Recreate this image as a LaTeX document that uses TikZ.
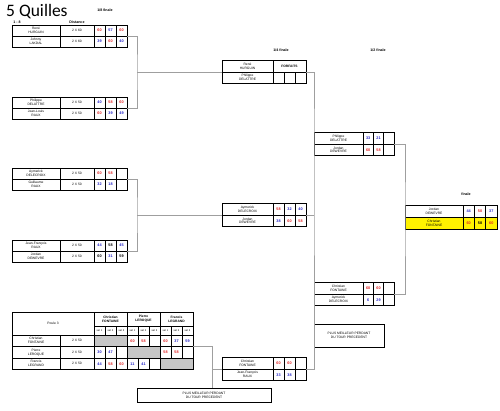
\documentclass[tikz,border=0pt]{standalone}
\usepackage{fontspec}
\setmainfont{Liberation Sans}
\newfontfamily\titre{Carlito}
\usetikzlibrary{positioning}
\definecolor{ptrouge}{RGB}{225,35,35}
\definecolor{ptbleu}{RGB}{35,35,200}
\newcommand{\petit}{\fontsize{3.3}{3.9}\selectfont}
\newcommand{\chiffre}{\fontsize{3.8}{4}\selectfont\bfseries}

\begin{document}
\begin{tikzpicture}[x=1pt, y=-1pt,
    cell/.style = {draw, line width=0.6pt, inner sep=0pt, outer sep=0pt},
    nom/.style = {cell, anchor=north west, minimum width=48pt, minimum height=11pt, align=center, font=\petit},
    dist/.style = {cell, minimum width=34pt, minimum height=11pt, font=\petit},
    score/.style = {cell, minimum width=11pt, minimum height=11pt, font=\chiffre},
    nomq/.style = {nom, minimum width=51pt, minimum height=11.5pt},
    ptq/.style = {score, minimum height=11.5pt},
    noms/.style = {nom, minimum width=49pt, minimum height=11.5pt},
    pts/.style = {score, minimum width=10.33pt, minimum height=11.5pt},
    nomf/.style = {nom, minimum width=58pt, minimum height=12pt},
    ptf/.style = {score, minimum width=11.33pt, minimum height=12pt},
    nomp/.style = {nom, minimum height=11.5pt},
    distp/.style = {dist, minimum height=11.5pt},
    ptp/.style = {score, minimum height=11.5pt},
    setc/.style = {cell, anchor=north west, minimum width=11pt, minimum height=9pt, font=\fontsize{2.6}{3}\selectfont},
    rg/.style = {text=ptrouge},
    bl/.style = {text=ptbleu},
    gris/.style = {fill=gray!45},
    lbl/.style = {inner sep=0pt, font=\fontsize{3.6}{4}\selectfont\bfseries},
    lien/.style = {draw=gray!75, line width=0.8pt}]

\useasboundingbox (0,0) rectangle (500,410);

\node[anchor=base west, inner sep=0pt, font=\titre\fontsize{17.5}{17.5}\selectfont] (titre) at (6,16.5) {5 Quilles};
\node[lbl] (huit) at (105,10) {1/8 finale};
\node[lbl] (num) at (17,22) {1 - 8};
\node[lbl] (distance) at (77,22) {Distance};
\node[lbl] (quart) at (281,50) {1/4 finale};
\node[lbl] (demi) at (378,50) {1/2 finale};
\node[lbl] (fin) at (466,194) {finale};

% 1/8 finale
\node[nom] (t1a) at (12,25) {René\\HURGUIN};
\node[dist] (t1ad) [right=0pt of t1a] {2 X 60};
\node[score,rg] (t1a1) [right=0pt of t1ad] {60};
\node[score,bl] (t1a2) [right=0pt of t1a1] {57};
\node[score,rg] (t1a3) [right=0pt of t1a2] {60};
\node[nom] (t1b) [below=0pt of t1a] {Johnny\\LAKDAL};
\node[dist] (t1bd) [right=0pt of t1b] {2 X 60};
\node[score,bl] (t1b1) [right=0pt of t1bd] {39};
\node[score,rg] (t1b2) [right=0pt of t1b1] {60};
\node[score,bl] (t1b3) [right=0pt of t1b2] {40};

\node[nom] (t2a) at (12,97) {Philippe\\DELATTRE};
\node[dist] (t2ad) [right=0pt of t2a] {2 X 50};
\node[score,bl] (t2a1) [right=0pt of t2ad] {40};
\node[score,rg] (t2a2) [right=0pt of t2a1] {58};
\node[score,rg] (t2a3) [right=0pt of t2a2] {60};
\node[nom] (t2b) [below=0pt of t2a] {Jean-Louis\\RAUX};
\node[dist] (t2bd) [right=0pt of t2b] {2 X 50};
\node[score,rg] (t2b1) [right=0pt of t2bd] {60};
\node[score,bl] (t2b2) [right=0pt of t2b1] {39};
\node[score,bl] (t2b3) [right=0pt of t2b2] {49};

\node[nom] (t3a) at (12,168) {Aymerick\\DELECROIX};
\node[dist] (t3ad) [right=0pt of t3a] {2 X 50};
\node[score,rg] (t3a1) [right=0pt of t3ad] {60};
\node[score,rg] (t3a2) [right=0pt of t3a1] {58};
\node[score] (t3a3) [right=0pt of t3a2] {};
\node[nom] (t3b) [below=0pt of t3a] {Guillaume\\RAUX};
\node[dist] (t3bd) [right=0pt of t3b] {2 X 50};
\node[score,bl] (t3b1) [right=0pt of t3bd] {32};
\node[score,bl] (t3b2) [right=0pt of t3b1] {18};
\node[score] (t3b3) [right=0pt of t3b2] {};

\node[nom] (t4a) at (12,240) {Jean-François\\RAUX};
\node[dist] (t4ad) [right=0pt of t4a] {2 X 50};
\node[score,bl] (t4a1) [right=0pt of t4ad] {44};
\node[score] (t4a2) [right=0pt of t4a1] {58};
\node[score,bl] (t4a3) [right=0pt of t4a2] {45};
\node[nom] (t4b) [below=0pt of t4a] {Jordan\\DEWEVRE};
\node[dist] (t4bd) [right=0pt of t4b] {2 X 50};
\node[score] (t4b1) [right=0pt of t4bd] {60};
\node[score,bl] (t4b2) [right=0pt of t4b1] {31};
\node[score] (t4b3) [right=0pt of t4b2] {59};

% 1/4 finale
\node[nomq] (q1a) at (222,60.5) {René\\HURGUIN};
\node[cell, minimum width=33pt, minimum height=11.5pt, font=\petit\bfseries] (q1af) [right=0pt of q1a] {FORFAITS};
\node[nomq] (q1b) [below=0pt of q1a] {Philippe\\DELATTRE};
\node[ptq] (q1b1) [right=0pt of q1b] {};
\node[ptq] (q1b2) [right=0pt of q1b1] {};
\node[ptq] (q1b3) [right=0pt of q1b2] {};

\node[nomq] (q2a) at (222,203.5) {Aymerick\\DELECROIX};
\node[ptq,rg] (q2a1) [right=0pt of q2a] {58};
\node[ptq,bl] (q2a2) [right=0pt of q2a1] {32};
\node[ptq,bl] (q2a3) [right=0pt of q2a2] {40};
\node[nomq] (q2b) [below=0pt of q2a] {Jordan\\DEWEVRE};
\node[ptq,bl] (q2b1) [right=0pt of q2b] {38};
\node[ptq,rg] (q2b2) [right=0pt of q2b1] {60};
\node[ptq,rg] (q2b3) [right=0pt of q2b2] {58};

\node[nomq] (q3a) at (222,357.5) {Christian\\FONTAINE};
\node[ptq,rg] (q3a1) [right=0pt of q3a] {60};
\node[ptq,rg] (q3a2) [right=0pt of q3a1] {60};
\node[ptq] (q3a3) [right=0pt of q3a2] {};
\node[nomq] (q3b) [below=0pt of q3a] {Jean-François\\RAUX};
\node[ptq,bl] (q3b1) [right=0pt of q3b] {33};
\node[ptq,bl] (q3b2) [right=0pt of q3b1] {38};
\node[ptq] (q3b3) [right=0pt of q3b2] {};

% 1/2 finale
\node[noms] (s1a) at (314,132.5) {Philippe\\DELATTRE};
\node[pts,bl] (s1a1) [right=0pt of s1a] {33};
\node[pts,bl] (s1a2) [right=0pt of s1a1] {21};
\node[pts] (s1a3) [right=0pt of s1a2] {};
\node[noms] (s1b) [below=0pt of s1a] {Jordan\\DEWEVRE};
\node[pts,rg] (s1b1) [right=0pt of s1b] {60};
\node[pts,rg] (s1b2) [right=0pt of s1b1] {58};
\node[pts] (s1b3) [right=0pt of s1b2] {};

\node[noms] (s2a) at (314,282.5) {Christian\\FONTAINE};
\node[pts,rg] (s2a1) [right=0pt of s2a] {60};
\node[pts,rg] (s2a2) [right=0pt of s2a1] {60};
\node[pts] (s2a3) [right=0pt of s2a2] {};
\node[noms] (s2b) [below=0pt of s2a] {Aymerick\\DELECROIX};
\node[pts,bl] (s2b1) [right=0pt of s2b] {6};
\node[pts,bl] (s2b2) [right=0pt of s2b1] {29};
\node[pts] (s2b3) [right=0pt of s2b2] {};

% finale
\node[nomf] (fa) at (405,205) {Jordan\\DEWEVRE};
\node[ptf,bl] (fa1) [right=0pt of fa] {44};
\node[ptf,rg] (fa2) [right=0pt of fa1] {50};
\node[ptf,bl] (fa3) [right=0pt of fa2] {37};
\node[nomf, fill=yellow] (fb) [below=0pt of fa] {Christian\\FONTAINE};
\node[ptf,rg,fill=yellow] (fb1) [right=0pt of fb] {60};
\node[ptf,fill=yellow] (fb2) [right=0pt of fb1] {58};
\node[ptf,rg,fill=yellow] (fb3) [right=0pt of fb2] {60};

% poule 3
\node[cell, anchor=north west, minimum width=82pt, minimum height=23pt, font=\petit] (poule) at (12,312) {Poule 3};
\node[cell, anchor=north west, minimum width=33pt, minimum height=14pt, align=center, font=\petit\bfseries] (hc) at (94,312) {Christian\\FONTAINE};
\node[cell, anchor=north west, minimum width=33pt, minimum height=14pt, align=center, font=\petit\bfseries] (hp) at (127,312) {Pierre\\LEROQUE};
\node[cell, anchor=north west, minimum width=33pt, minimum height=14pt, align=center, font=\petit\bfseries] (hf) at (160,312) {Francis\\LEGRAND};
\node[setc] (hc1) at (94,326) {set 1};
\node[setc] (hc2) at (105,326) {set 2};
\node[setc] (hc3) at (116,326) {set 3};
\node[setc] (hp1) at (127,326) {set 1};
\node[setc] (hp2) at (138,326) {set 2};
\node[setc] (hp3) at (149,326) {set 3};
\node[setc] (hf1) at (160,326) {set 1};
\node[setc] (hf2) at (171,326) {set 2};
\node[setc] (hf3) at (182,326) {set 3};

\node[nomp] (p1) at (12,335) {Christian\\FONTAINE};
\node[distp] (p1d) [right=0pt of p1] {2 X 50};
\node[ptp,gris,minimum width=33pt] (p1c) [right=0pt of p1d] {};
\node[ptp,rg] (p1p1) [right=0pt of p1c] {60};
\node[ptp,rg] (p1p2) [right=0pt of p1p1] {58};
\node[ptp] (p1p3) [right=0pt of p1p2] {};
\node[ptp,rg] (p1f1) [right=0pt of p1p3] {60};
\node[ptp,bl] (p1f2) [right=0pt of p1f1] {37};
\node[ptp,bl] (p1f3) [right=0pt of p1f2] {59};

\node[nomp] (p2) [below=0pt of p1] {Pierre\\LEROQUE};
\node[distp] (p2d) [right=0pt of p2] {2 X 50};
\node[ptp,bl] (p2c1) [right=0pt of p2d] {30};
\node[ptp,bl] (p2c2) [right=0pt of p2c1] {47};
\node[ptp] (p2c3) [right=0pt of p2c2] {};
\node[ptp,gris,minimum width=33pt] (p2p) [right=0pt of p2c3] {};
\node[ptp,rg] (p2f1) [right=0pt of p2p] {58};
\node[ptp,rg] (p2f2) [right=0pt of p2f1] {58};
\node[ptp] (p2f3) [right=0pt of p2f2] {};

\node[nomp] (p3) [below=0pt of p2] {Francis\\LEGRAND};
\node[distp] (p3d) [right=0pt of p3] {2 X 50};
\node[ptp,bl] (p3c1) [right=0pt of p3d] {44};
\node[ptp,rg] (p3c2) [right=0pt of p3c1] {58};
\node[ptp,rg] (p3c3) [right=0pt of p3c2] {60};
\node[ptp,bl] (p3p1) [right=0pt of p3c3] {11};
\node[ptp,bl] (p3p2) [right=0pt of p3p1] {41};
\node[ptp] (p3p3) [right=0pt of p3p2] {};
\node[ptp,gris,minimum width=33pt] (p3f) [right=0pt of p3p3] {};

% meilleurs perdants
\node[cell, anchor=north west, minimum width=134pt, minimum height=14pt, align=center, font=\petit] (meil1) at (137,388) {PLUS MEILLEUR PERDANT\\DU TOUR PRECEDENT};
\node[cell, anchor=north west, minimum width=70pt, minimum height=23pt, align=center, font=\petit] (meil2) at (314,324) {PLUS MEILLEUR PERDANT\\DU TOUR PRECEDENT};

% liens
\coordinate (j1) at (137,72);
\coordinate (j2) at (137,215);
\coordinate (j3) at (314,144);
\coordinate (j4) at (405,219);
\coordinate (j5) at (212,369);

\draw[lien] (t1a3.south east) -| (j1) |- (t2a3.south east);
\draw[lien] (j1) -- (q1a.south west);
\draw[lien] (t3a3.south east) -| (j2) |- (t4a3.south east);
\draw[lien] (j2) -- (q2a.south west);
\draw[lien] (q1af.south east) -| (j3) |- (q3b3.north east);
\draw[lien] (q2b3.north east) -- (q2b3.north east -| j3);
\draw[lien] (s1b3.north east) -| (j4) |- (s2b3.north east);
\draw[lien] (p2f3.north east) -| (j5) -- (q3b.north west);
\draw[lien] (j5) -- (meil1.north -| j5);

\end{tikzpicture}
\end{document}
